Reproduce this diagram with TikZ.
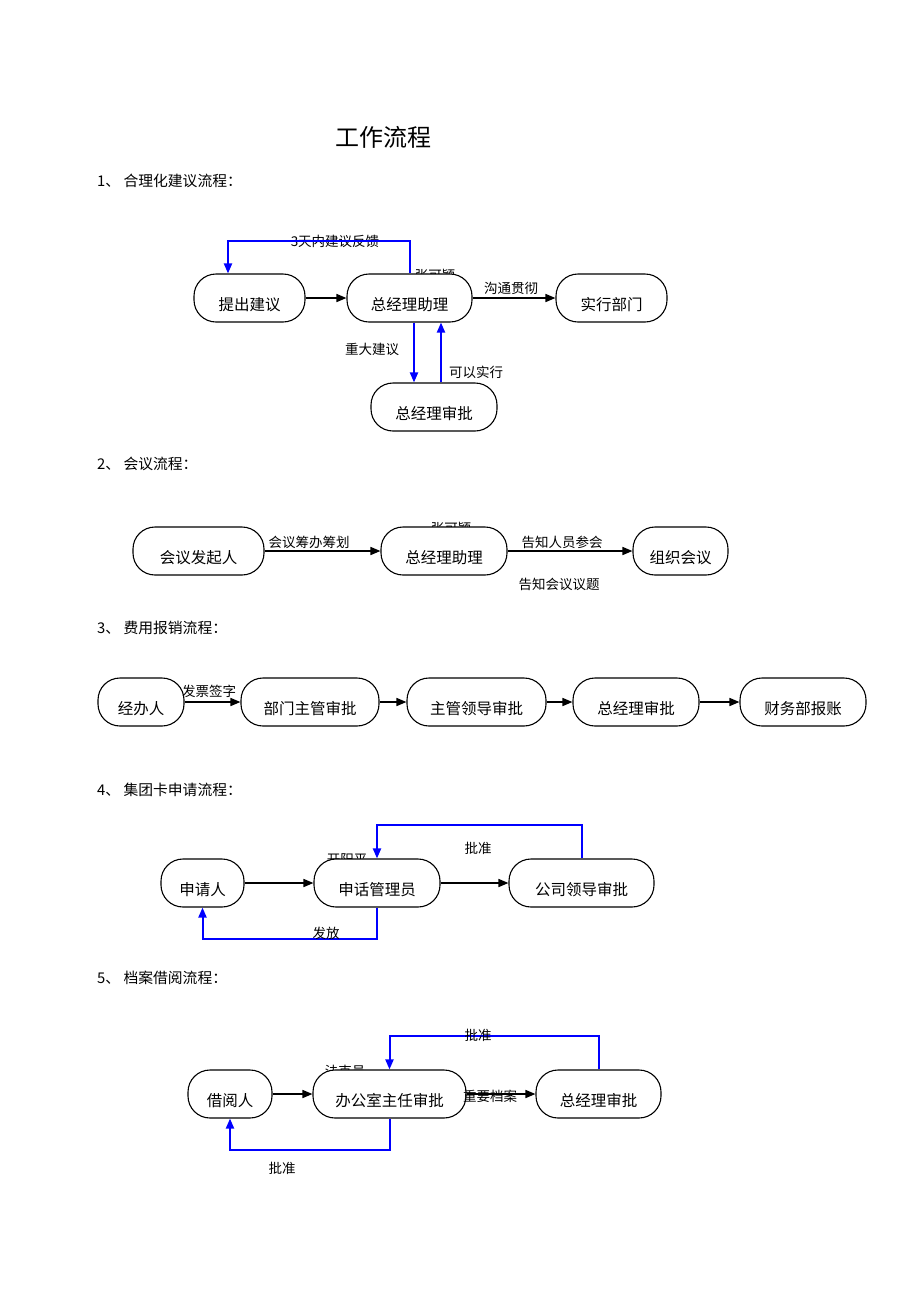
\documentclass[tikz,border=0pt]{standalone}
\usepackage{fontspec}
\setmainfont{Liberation Serif}
\newfontfamily\cjk{Noto Sans CJK SC}
\usetikzlibrary{shapes.misc, positioning, backgrounds, arrows.meta}

\begin{document}
\begin{tikzpicture}[x=1pt,y=-1pt,-,auto,
    box/.style={draw,fill=white,rounded corners=22pt,minimum height=48pt,line width=1.1pt,
                text height=26pt,text depth=2pt,font=\cjk\fontsize{15.5}{17}\selectfont},
    lab/.style={inner sep=1pt,font=\cjk\fontsize{13.5}{15}\selectfont},
    head/.style={anchor=west,inner sep=0pt,font=\cjk\fontsize{14.8}{17}\selectfont},
    go/.style={-{Triangle[length=10pt,width=8pt]},line width=1.6pt},
    back/.style={-{Triangle[length=10pt,width=8pt]},line width=2pt,draw=blue,color=blue}]

  \fill[white] (0,0) rectangle (920,1302);
  \useasboundingbox (0,0) rectangle (920,1302);

  % names half hidden behind the boxes
  \node[lab] (n1) at (435,275) {张可颖};
  \node[lab] (n2) at (451,528) {张可颖};
  \node[lab] (n3) at (347,860) {开阳平};
  \node[lab] (n4) at (345,1071) {法克员};

  \node[inner sep=0pt,font=\cjk\fontsize{24}{27}\selectfont] (title) at (383,137) {工作流程};

  % 1
  \node[head] (h1) at (97,181) {1、 合理化建议流程：};
  \node[box,minimum width=111pt] (tj1) at (249.5,298) {提出建议};
  \node[box,minimum width=125pt] (zl1) at (409.5,298) {总经理助理};
  \node[box,minimum width=111pt] (sx1) at (611.5,298) {实行部门};
  \node[box,minimum width=126pt] (zs1) at (434,407) {总经理审批};

  \node[lab] (l1) at (335,241) {3天内建议反馈};
  \draw[go] (tj1) -- (zl1);
  \draw[go] (zl1) -- (sx1);
  \draw[back] (zl1.north) -- ++(0,-32) -| ([xshift=-21.5pt]tj1.north);
  \draw[back] ([xshift=4.5pt]zl1.south) -- ([xshift=-20pt]zs1.north);
  \draw[back] ([xshift=7pt]zs1.north) -- ([xshift=31.5pt]zl1.south);
  \node[lab] (l2) at (511,288) {沟通贯彻};
  \node[lab] (l3) at (372,349) {重大建议};
  \node[lab] (l4) at (476,372) {可以实行};

  % 2
  \node[head] (h2) at (97,464) {2、 会议流程：};
  \node[box,minimum width=131pt] (fq2) at (198.5,551) {会议发起人};
  \node[box,minimum width=126pt] (zl2) at (444,551) {总经理助理};
  \node[box,minimum width=95pt] (zz2) at (680.5,551) {组织会议};

  \draw[go] (fq2) -- (zl2);
  \draw[go] (zl2) -- (zz2);
  \node[lab] (l5) at (309,542) {会议筹办筹划};
  \node[lab] (l6) at (562,542) {告知人员参会};
  \node[lab] (l7) at (559,584) {告知会议议题};

  % 3
  \node[head] (h3) at (97,628) {3、 费用报销流程：};
  \node[box,minimum width=86pt] (jb3) at (141,702) {经办人};
  \node[box,minimum width=138pt] (bm3) at (310,702) {部门主管审批};
  \node[box,minimum width=139pt] (zg3) at (476.5,702) {主管领导审批};
  \node[box,minimum width=126pt] (zs3) at (636,702) {总经理审批};
  \node[box,minimum width=126pt] (cw3) at (803,702) {财务部报账};

  \draw[go] (jb3) -- (bm3);
  \draw[go] (bm3) -- (zg3);
  \draw[go] (zg3) -- (zs3);
  \draw[go] (zs3) -- (cw3);
  \node[lab] (l8) at (209,691) {发票签字};

  % 4
  \node[head] (h4) at (97,790) {4、 集团卡申请流程：};
  \node[box,minimum width=83pt] (sq4) at (202.5,883) {申请人};
  \node[box,minimum width=126pt] (dh4) at (377,883) {申话管理员};
  \node[box,minimum width=145pt] (gs4) at (581.5,883) {公司领导审批};

  \draw[go] (sq4) -- (dh4);
  \draw[go] (dh4) -- (gs4);
  \draw[back] (gs4.north) -- ++(0,-33) -| (dh4.north);
  \draw[back] (dh4.south) -- ++(0,31) -| (sq4.south);
  \node[lab] (l9) at (478,848) {批准};
  \node[lab] (l10) at (326,933) {发放};

  % 5
  \node[head] (h5) at (97,978) {5、 档案借阅流程：};
  \node[box,minimum width=84pt] (jy5) at (230,1094) {借阅人};
  \node[box,minimum width=153pt] (bg5) at (389.5,1094) {办公室主任审批};
  \node[box,minimum width=125pt] (zs5) at (598.5,1094) {总经理审批};

  \draw[go] (jy5) -- (bg5);
  \draw[go] (bg5) -- (zs5);
  \draw[back] (zs5.north) -- ++(0,-33) -| (bg5.north);
  \draw[back] (bg5.south) -- ++(0,31) -| (jy5.south);
  \node[lab] (l11) at (478,1035) {批准};
  \node[lab] (l12) at (490,1096) {重要档案};
  \node[lab] (l13) at (282,1168) {批准};
\end{tikzpicture}
\end{document}
